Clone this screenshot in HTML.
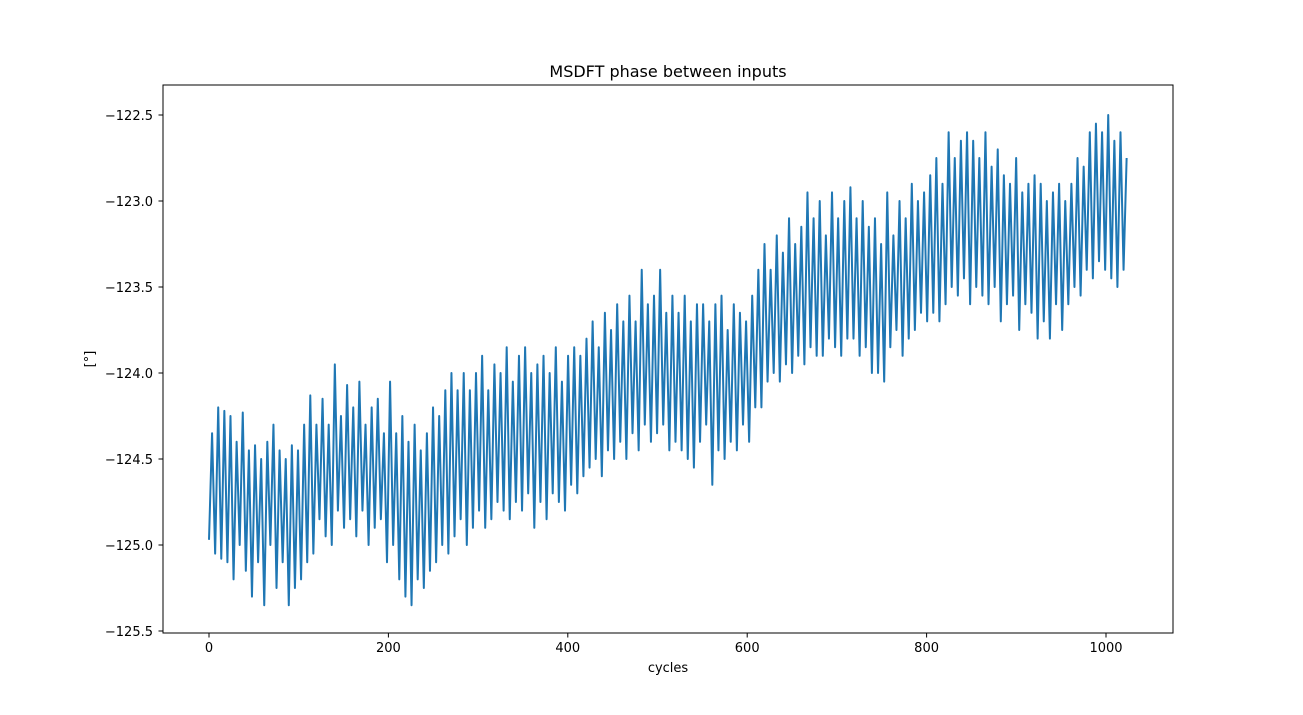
<!DOCTYPE html>
<html><head><meta charset="utf-8"><style>
body{margin:0;background:#fff;font-family:"Liberation Sans","DejaVu Sans",sans-serif;}
svg text{font-family:"DejaVu Sans","Liberation Sans",sans-serif;}
</style></head><body>
<svg id="c" width="1303" height="710" xmlns="http://www.w3.org/2000/svg">
<rect width="1303" height="710" fill="#fff"/>
<text x="668" y="77" text-anchor="middle" font-size="16">MSDFT phase between inputs</text>
<text x="668" y="672" text-anchor="middle" font-size="13">cycles</text>
<text x="94" y="359" text-anchor="middle" font-size="13" transform="rotate(-90 94 359)">[°]</text>
<g id="ticks"></g>
<path id="line" fill="none" stroke="#1f77b4" stroke-width="2" stroke-linejoin="round"/>
<rect x="163" y="85" width="1010" height="548" fill="none" stroke="#000" stroke-width="1"/>
</svg>
<script>
const xTicks=[0,200,400,600,800,1000];
const yTicks=[-122.5,-123.0,-123.5,-124.0,-124.5,-125.0,-125.5];
const xLast=1023;
const phase=[-124.97,-124.35,-125.05,-124.2,-125.08,-124.22,-125.1,-124.25,-125.2,-124.4,-125.0,-124.23,-125.15,-124.45,-125.3,-124.42,-125.1,-124.5,-125.35,-124.4,-125.0,-124.3,-125.25,-124.45,-125.1,-124.5,-125.35,-124.42,-125.25,-124.45,
-125.2,-124.3,-125.1,-124.13,-125.05,-124.3,-124.85,-124.15,-124.95,-124.3,-125.0,-123.95,-124.8,-124.25,-124.9,-124.07,-124.85,-124.2,-124.95,-124.05,-124.8,-124.3,-125.0,-124.2,-124.9,-124.15,-124.85,-124.35,-125.1,-124.05,
-125.0,-124.35,-125.2,-124.25,-125.3,-124.4,-125.35,-124.3,-125.2,-124.45,-125.25,-124.35,-125.15,-124.2,-125.1,-124.25,-125.0,-124.1,-125.05,-124.0,-124.95,-124.1,-124.85,-124.0,-125.0,-124.1,-124.9,-124.0,-124.8,-123.9,
-124.9,-124.1,-124.85,-123.95,-124.75,-124.0,-124.8,-123.85,-124.85,-124.05,-124.75,-123.9,-124.8,-123.85,-124.7,-124.0,-124.9,-123.95,-124.75,-123.9,-124.85,-124.0,-124.7,-123.85,-124.75,-124.05,-124.8,-123.9,-124.65,-123.85,
-124.7,-123.9,-124.6,-123.8,-124.55,-123.7,-124.5,-123.85,-124.6,-123.65,-124.45,-123.75,-124.5,-123.6,-124.4,-123.7,-124.5,-123.55,-124.35,-123.7,-124.45,-123.4,-124.3,-123.6,-124.4,-123.55,-124.35,-123.4,-124.3,-123.65,
-124.45,-123.55,-124.4,-123.65,-124.45,-123.55,-124.5,-123.7,-124.55,-123.6,-124.4,-123.6,-124.3,-123.7,-124.65,-123.6,-124.45,-123.55,-124.5,-123.75,-124.4,-123.6,-124.45,-123.65,-124.3,-123.7,-124.4,-123.55,-124.2,-123.4,
-124.2,-123.25,-124.05,-123.4,-124.0,-123.2,-124.05,-123.3,-123.95,-123.1,-124.0,-123.25,-123.9,-123.15,-123.95,-122.95,-123.85,-123.1,-123.9,-123.0,-123.9,-123.2,-123.8,-122.95,-123.85,-123.1,-123.9,-123.0,-123.8,-122.92,
-123.8,-123.1,-123.9,-123.0,-123.85,-123.15,-124.0,-123.1,-124.0,-123.25,-124.05,-122.95,-123.85,-123.2,-123.75,-123.0,-123.9,-123.1,-123.8,-122.9,-123.75,-123.0,-123.65,-122.95,-123.7,-122.85,-123.65,-122.75,-123.7,-122.9,
-123.6,-122.6,-123.5,-122.75,-123.55,-122.65,-123.45,-122.6,-123.6,-122.65,-123.5,-122.75,-123.55,-122.6,-123.6,-122.8,-123.5,-122.7,-123.7,-122.85,-123.6,-122.9,-123.55,-122.75,-123.75,-122.95,-123.6,-122.9,-123.65,-122.85,
-123.8,-122.9,-123.7,-123.0,-123.8,-122.95,-123.6,-122.9,-123.75,-123.0,-123.6,-122.9,-123.5,-122.75,-123.55,-122.8,-123.4,-122.6,-123.45,-122.55,-123.35,-122.6,-123.4,-122.5,-123.45,-122.65,-123.5,-122.6,-123.4,-122.75];
const NS='http://www.w3.org/2000/svg';
function xs(v){return 209+v*0.897;}
function ys(v){return 115+(-122.5-v)*172;}
const g=document.getElementById('ticks');
xTicks.forEach(t=>{
  const l=document.createElementNS(NS,'line');
  l.setAttribute('x1',xs(t));l.setAttribute('x2',xs(t));l.setAttribute('y1',633);l.setAttribute('y2',637.5);l.setAttribute('stroke','#000');
  
  
  g.appendChild(l);
  const tx=document.createElementNS(NS,'text');
  tx.setAttribute('x',xs(t));tx.setAttribute('y',652);tx.setAttribute('text-anchor','middle');tx.setAttribute('font-size','13');
  tx.textContent=String(t);
  
  
  g.appendChild(tx);
});
yTicks.forEach(t=>{
  const l=document.createElementNS(NS,'line');
  l.setAttribute('x1',158.5);l.setAttribute('x2',163);l.setAttribute('y1',ys(t));l.setAttribute('y2',ys(t));l.setAttribute('stroke','#000');
  
  
  g.appendChild(l);
  const tx=document.createElementNS(NS,'text');
  tx.setAttribute('x',153);tx.setAttribute('y',ys(t)+5);tx.setAttribute('text-anchor','end');tx.setAttribute('font-size','13');
  tx.textContent='\u2212'+Math.abs(t).toFixed(1);
  
  
  g.appendChild(tx);
});
let d='';
phase.forEach((v,i)=>{const x=i*xLast/(phase.length-1);d+=(i?'L':'M')+xs(x).toFixed(2)+','+ys(v).toFixed(2);});
document.getElementById('line').setAttribute('d',d);
</script>
</body></html>
